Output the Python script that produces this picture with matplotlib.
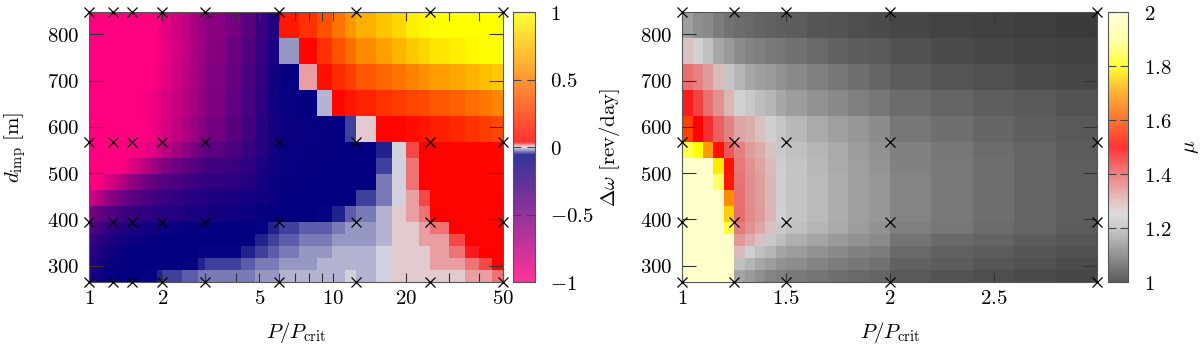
import numpy as np
import matplotlib
matplotlib.use("Agg")
import matplotlib.pyplot as plt
from matplotlib.colors import LinearSegmentedColormap, ListedColormap, Normalize
from matplotlib.cm import ScalarMappable
from matplotlib.ticker import FixedLocator, NullFormatter

plt.rcParams['mathtext.fontset'] = 'cm'
plt.rcParams['font.family'] = 'serif'
plt.rcParams['font.serif'] = ['DejaVu Serif']

# ---------------- data ----------------
# simulated points (markers)
p_sim_left = [1, 1.25, 1.5, 2, 3, 6, 12.5, 25, 50]
p_sim_right = [1, 1.25, 1.5, 2, 3]
d_sim = [265, 395, 567, 848]

# cell edges
p_edges_left = [1, 1.05, 1.1, 1.15, 1.2, 1.25, 1.3, 1.35, 1.4, 1.45, 1.5, 1.6, 1.7, 1.8, 1.9, 2,
                2.2, 2.4, 2.6, 2.8, 3, 3.6, 4.2, 4.8, 5.4, 6, 7.3, 8.6, 9.9, 11.2, 12.5,
                15, 17.5, 20, 22.5, 25, 30, 35, 40, 45, 50]
p_edges_right = [1, 1.05, 1.1, 1.15, 1.2, 1.25, 1.3, 1.35, 1.4, 1.45, 1.5, 1.6, 1.7, 1.8, 1.9, 2,
                 2.2, 2.4, 2.6, 2.8, 3]
d_edges = [848, 791.8, 735.6, 679.4, 623.2, 567, 532.6, 498.2, 463.8, 429.4, 395,
           369, 343, 317, 291, 265]

# left panel values (rows from top to bottom)
left_vals = [
    [-1]*14 + [-0.95, -0.89, -0.83, -0.76, -0.69, -0.63, -0.56, -0.49, -0.39, -0.28, -0.18,
               0.13, 0.22, 0.34, 0.47, 0.6, 0.7, 0.78, 0.85, 0.93, 0.97, 1, 1, 1, 1, 1],
    [-1]*14 + [-0.96, -0.9, -0.84, -0.77, -0.7, -0.64, -0.55, -0.46, -0.36, -0.26, -0.16,
               -0.017, 0.06, 0.22, 0.34, 0.46, 0.57, 0.64, 0.72, 0.79, 0.85, 0.9, 0.94, 0.97, 0.99, 1.0],
    [-1]*13 + [-0.98, -0.95, -0.89, -0.82, -0.75, -0.68, -0.62, -0.53, -0.43, -0.33, -0.24, -0.14,
               -0.08, 0.01, 0.1, 0.2, 0.28, 0.36, 0.42, 0.47, 0.53, 0.58, 0.63, 0.67, 0.71, 0.75, 0.79],
    [-1]*11 + [-0.98, -0.96, -0.93, -0.9, -0.85, -0.79, -0.72, -0.66, -0.6, -0.52, -0.42, -0.32, -0.22, -0.13,
               -0.09, -0.07, -0.012, 0.06, 0.12, 0.17, 0.22, 0.26, 0.29, 0.32, 0.36, 0.4, 0.45, 0.49, 0.54],
    [-1]*12 + [-0.97, -0.94, -0.9, -0.84, -0.77, -0.7, -0.63, -0.56, -0.48, -0.39, -0.3, -0.21, -0.14,
               -0.1, -0.09, -0.075, -0.07, -0.045, 0.006, 0.05, 0.07, 0.09, 0.11, 0.15, 0.19, 0.23, 0.27, 0.31],
    [-1]*10 + [-0.98, -0.95, -0.91, -0.86, -0.81, -0.74, -0.66, -0.58, -0.51, -0.45, -0.39, -0.33, -0.26, -0.2, -0.13,
               -0.09, -0.08, -0.075, -0.07, -0.07, -0.07, -0.05, -0.004, 0.025, 0.045, 0.05, 0.05, 0.055, 0.06, 0.07],
    [-1]*7 + [-0.97, -0.94, -0.9, -0.85, -0.78, -0.71, -0.64, -0.58, -0.52, -0.46, -0.41, -0.37, -0.33, -0.29,
              -0.27, -0.22, -0.17, -0.12,
              -0.09, -0.075, -0.07, -0.07, -0.07, -0.07, -0.04, -0.003, 0.02, 0.045, 0.05, 0.05, 0.055, 0.06, 0.065],
    [-1]*2 + [-0.95, -0.9, -0.85, -0.8, -0.75, -0.7, -0.66, -0.62, -0.57, -0.5, -0.46, -0.42, -0.39, -0.36,
              -0.33, -0.3, -0.28, -0.26, -0.24, -0.22, -0.18, -0.14, -0.1,
              -0.08, -0.07, -0.07, -0.068, -0.07, -0.07, -0.03, -0.002, 0.018, 0.04, 0.05, 0.05, 0.05, 0.055, 0.06],
    [-0.83, -0.76, -0.7, -0.64, -0.58, -0.54, -0.5, -0.47, -0.44, -0.41, -0.38, -0.35, -0.32, -0.3, -0.28,
     -0.26, -0.24, -0.22, -0.2, -0.19, -0.17, -0.16, -0.13, -0.11, -0.09,
     -0.07, -0.07, -0.07, -0.07, -0.065, -0.045, -0.025, -0.001, 0.013, 0.03, 0.05, 0.05, 0.05, 0.05, 0.055],
    [-0.5, -0.45, -0.41, -0.38, -0.35, -0.33, -0.31, -0.29, -0.28, -0.27, -0.25, -0.23, -0.22, -0.21, -0.2,
     -0.19, -0.18, -0.17, -0.16, -0.15, -0.14, -0.12, -0.1, -0.08, -0.07,
     -0.07, -0.07, -0.058, -0.05, -0.035, -0.03, -0.015, 0.0, 0.008, 0.02, 0.04, 0.05, 0.05, 0.05, 0.05],
    [-0.36, -0.32, -0.29, -0.26, -0.24, -0.22, -0.2, -0.19, -0.18, -0.17, -0.15, -0.14, -0.13, -0.12, -0.11,
     -0.1, -0.09, -0.085, -0.08, -0.075, -0.07, -0.07, -0.068, -0.062, -0.048,
     -0.045, -0.038, -0.032, -0.027, -0.022, -0.022, -0.012, 0.0, 0.005, 0.012, 0.022, 0.04, 0.05, 0.05, 0.05],
    [-0.27, -0.24, -0.21, -0.19, -0.17, -0.15, -0.14, -0.13, -0.12, -0.11, -0.1, -0.09, -0.085, -0.08, -0.075,
     -0.07, -0.07, -0.07, -0.07, -0.07, -0.07, -0.07, -0.065, -0.052, -0.04,
     -0.033, -0.029, -0.024, -0.02, -0.017, -0.018, -0.01, 0.0, 0.003, 0.008, 0.015, 0.028, 0.045, 0.05, 0.05],
    [-0.22, -0.19, -0.16, -0.14, -0.12, -0.1, -0.09, -0.085, -0.08, -0.075, -0.07, -0.07, -0.07, -0.07, -0.07,
     -0.07, -0.07, -0.068, -0.065, -0.062, -0.058, -0.055, -0.048, -0.04, -0.033,
     -0.027, -0.022, -0.018, -0.015, -0.013, -0.014, -0.007, 0.0, 0.002, 0.006, 0.012, 0.02, 0.032, 0.045, 0.05],
    [-0.19, -0.16, -0.13, -0.11, -0.09, -0.08, -0.075, -0.07, -0.07, -0.07, -0.07, -0.07, -0.07, -0.068, -0.066,
     -0.064, -0.063, -0.062, -0.056, -0.05, -0.046, -0.045, -0.037, -0.031, -0.025,
     -0.02, -0.017, -0.014, -0.012, -0.01, -0.011, -0.006, 0.0, 0.001, 0.004, 0.008, 0.014, 0.022, 0.03, 0.042],
    [-0.16, -0.13, -0.1, -0.085, -0.075, -0.07, -0.07, -0.07, -0.07, -0.07, -0.07, -0.066, -0.06, -0.055, -0.05,
     -0.044, -0.04, -0.035, -0.032, -0.03, -0.028, -0.027, -0.025, -0.02, -0.016,
     -0.013, -0.011, -0.009, -0.008, -0.007, -0.008, -0.004, 0.0, 0.0, 0.002, 0.004, 0.007, 0.01, 0.013, 0.016],
]

# right panel values mu (rows from top to bottom)
right_vals = [
    [1.16, 1.135, 1.125, 1.107, 1.09, 1.085, 1.08, 1.074, 1.07, 1.066, 1.06, 1.053, 1.047, 1.042, 1.037, 1.03, 1.026, 1.022, 1.017, 1.013],
    [1.28, 1.25, 1.21, 1.17, 1.15, 1.13, 1.12, 1.11, 1.105, 1.1, 1.09, 1.08, 1.07, 1.062, 1.055, 1.045, 1.038, 1.031, 1.026, 1.022],
    [1.38, 1.36, 1.33, 1.29, 1.22, 1.19, 1.17, 1.16, 1.15, 1.14, 1.125, 1.11, 1.1, 1.088, 1.078, 1.062, 1.052, 1.044, 1.037, 1.031],
    [1.47, 1.43, 1.38, 1.34, 1.3, 1.25, 1.23, 1.2, 1.19, 1.17, 1.155, 1.14, 1.125, 1.113, 1.1, 1.083, 1.072, 1.063, 1.055, 1.048],
    [1.58, 1.5, 1.45, 1.4, 1.36, 1.32, 1.31, 1.28, 1.245, 1.22, 1.195, 1.175, 1.16, 1.145, 1.13, 1.1, 1.088, 1.076, 1.066, 1.057],
    [1.85, 1.8, 1.7, 1.52, 1.41, 1.36, 1.33, 1.31, 1.28, 1.23, 1.21, 1.19, 1.172, 1.155, 1.14, 1.115, 1.1, 1.085, 1.072, 1.062],
    [2.0, 2.0, 2.0, 1.78, 1.52, 1.37, 1.34, 1.32, 1.29, 1.24, 1.215, 1.195, 1.175, 1.158, 1.143, 1.117, 1.102, 1.087, 1.074, 1.063],
    [2.0, 2.0, 2.0, 1.87, 1.53, 1.375, 1.345, 1.325, 1.295, 1.245, 1.218, 1.197, 1.177, 1.16, 1.145, 1.118, 1.103, 1.088, 1.075, 1.064],
    [2.0, 2.0, 2.0, 2.0, 1.68, 1.38, 1.345, 1.325, 1.295, 1.245, 1.218, 1.197, 1.177, 1.16, 1.145, 1.118, 1.103, 1.088, 1.075, 1.064],
    [2.0, 2.0, 2.0, 2.0, 1.75, 1.385, 1.35, 1.33, 1.3, 1.25, 1.218, 1.197, 1.177, 1.16, 1.145, 1.118, 1.103, 1.088, 1.075, 1.064],
    [2.0, 2.0, 2.0, 2.0, 1.84, 1.37, 1.34, 1.315, 1.28, 1.23, 1.21, 1.19, 1.172, 1.155, 1.14, 1.112, 1.098, 1.084, 1.071, 1.061],
    [2.0, 2.0, 2.0, 2.0, 2.0, 1.335, 1.31, 1.28, 1.23, 1.2, 1.18, 1.165, 1.15, 1.138, 1.126, 1.095, 1.082, 1.071, 1.06, 1.052],
    [2.0, 2.0, 2.0, 2.0, 2.0, 1.29, 1.245, 1.21, 1.19, 1.165, 1.155, 1.14, 1.128, 1.117, 1.107, 1.08, 1.07, 1.061, 1.053, 1.046],
    [2.0, 2.0, 2.0, 2.0, 2.0, 1.21, 1.19, 1.17, 1.155, 1.14, 1.13, 1.118, 1.108, 1.098, 1.09, 1.068, 1.06, 1.052, 1.045, 1.038],
    [2.0, 2.0, 2.0, 2.0, 2.0, 1.165, 1.15, 1.135, 1.12, 1.11, 1.105, 1.096, 1.088, 1.08, 1.072, 1.055, 1.047, 1.04, 1.034, 1.028],
]

left_ticks = [1, 2, 5, 10, 20, 50]
left_minor = [3, 4, 6, 7, 8, 9, 30, 40]
right_xticks = [1, 1.5, 2, 2.5]
yticks = [300, 400, 500, 600, 700, 800]
cb_left_ticks = [-1, -0.5, 0, 0.5, 1]
cb_right_ticks = [1, 1.2, 1.4, 1.6, 1.8, 2]


# ---------------- colormaps ----------------
def make_cmap(nodes, vmin, vmax, name):
    return LinearSegmentedColormap.from_list(
        name, [((v - vmin) / (vmax - vmin), c) for v, c in nodes])


left_cmap = make_cmap([(-1.0, (1, 0, 0.5)), (-0.06, (0, 0, 0.5)), (0.0, (0.88, 0.88, 0.9)),
                       (0.04, (1, 0, 0)), (1.0, (1, 1, 0))], -1, 1, 'lc')
right_cmap = make_cmap([(1.0, '#333333'), (1.2, '#bdbdbd'), (1.25, '#d2d2d2'), (1.3, '#dcb4b4'),
                        (1.4, '#ea6060'), (1.5, '#ff0000'), (1.6, '#ff5000'), (1.7, '#ff9900'),
                        (1.8, '#ffff00'), (1.9, '#ffff99'), (2.0, '#ffffcc')], 1, 2, 'rc')


def lighten(cmap):
    c = cmap(np.linspace(0, 1, 256))
    c[:, :3] = c[:, :3] * 0.8 + 0.2
    return ListedColormap(c)


fig = plt.figure(figsize=(12, 3.45), dpi=100)
ax1 = fig.add_axes([0.0742, 0.1826, 0.345, 0.7826])
cax1 = fig.add_axes([0.4278, 0.1826, 0.0181, 0.7826])
ax2 = fig.add_axes([0.5686, 0.1826, 0.3458, 0.7826])
cax2 = fig.add_axes([0.9231, 0.1826, 0.0172, 0.7826])

FS = 15
spine_c = '#555555'

ax1.pcolormesh(p_edges_left, d_edges, np.array(left_vals), cmap=left_cmap,
               vmin=-1, vmax=1, shading='flat', rasterized=True)
ax1.set_xscale('log')
ax1.set_xlim(1, 50)
ax1.set_ylim(265, 848)
ax1.xaxis.set_major_locator(FixedLocator(left_ticks))
ax1.xaxis.set_minor_locator(FixedLocator(left_minor))
ax1.xaxis.set_minor_formatter(NullFormatter())
ax1.set_xticklabels([f'${t}$' for t in left_ticks])

ax2.pcolormesh(p_edges_right, d_edges, np.array(right_vals), cmap=right_cmap,
               vmin=1, vmax=2, shading='flat', rasterized=True)
ax2.set_xlim(1, 3)
ax2.set_ylim(265, 848)
ax2.set_xticks(right_xticks)
ax2.set_xticklabels([f'${t:g}$' for t in right_xticks])

for ax, ps in ((ax1, p_sim_left), (ax2, p_sim_right)):
    PP, DD = np.meshgrid(ps, d_sim)
    ax.plot(PP.ravel(), DD.ravel(), 'x', color='black', ms=7, mew=0.9,
            clip_on=False, zorder=5)
    ax.set_yticks(yticks)
    ax.set_yticklabels([f'${t}$' for t in yticks])
    ax.tick_params(axis='x', which='both', direction='in', top=True, bottom=True,
                   length=6.5, width=0.8, color='#333333', labelsize=FS, pad=5)
    ax.tick_params(axis='y', which='both', direction='in', left=True, right=True,
                   length=10, width=0.8, color='#333333', labelsize=FS, pad=7)
    for s in ax.spines.values():
        s.set_color(spine_c)
        s.set_linewidth(0.8)
    ax.set_xlabel(r'$P/P_{\mathrm{crit}}$', fontsize=FS)
    ax.xaxis.set_label_coords(0.5, -0.14)

ax1.set_ylabel(r'$d_{\mathrm{imp}}\ [\mathrm{m}]$', fontsize=FS)
ax1.yaxis.set_label_coords(-0.147, 0.5)
ax2.set_ylabel(r'$\Delta\omega\ [\mathrm{rev/day}]$', fontsize=FS)
ax2.yaxis.set_label_coords(-0.145, 0.5)

for cax, cmap, vmin, vmax, ticks in ((cax1, left_cmap, -1, 1, cb_left_ticks),
                                      (cax2, right_cmap, 1, 2, cb_right_ticks)):
    sm = ScalarMappable(norm=Normalize(vmin, vmax), cmap=lighten(cmap))
    cb = fig.colorbar(sm, cax=cax)
    cb.set_ticks(ticks)
    cb.set_ticklabels([f'${t:g}$' for t in ticks])
    cax.tick_params(direction='in', left=True, right=True, length=6, width=0.8,
                    color='#444444', labelsize=FS, pad=11)
    cb.outline.set_edgecolor(spine_c)
    cb.outline.set_linewidth(0.8)

cax2.set_ylabel(r'$\mu$', fontsize=FS)
cax2.yaxis.set_label_coords(3.6, 0.5)

fig.savefig('out.png', dpi=100)
